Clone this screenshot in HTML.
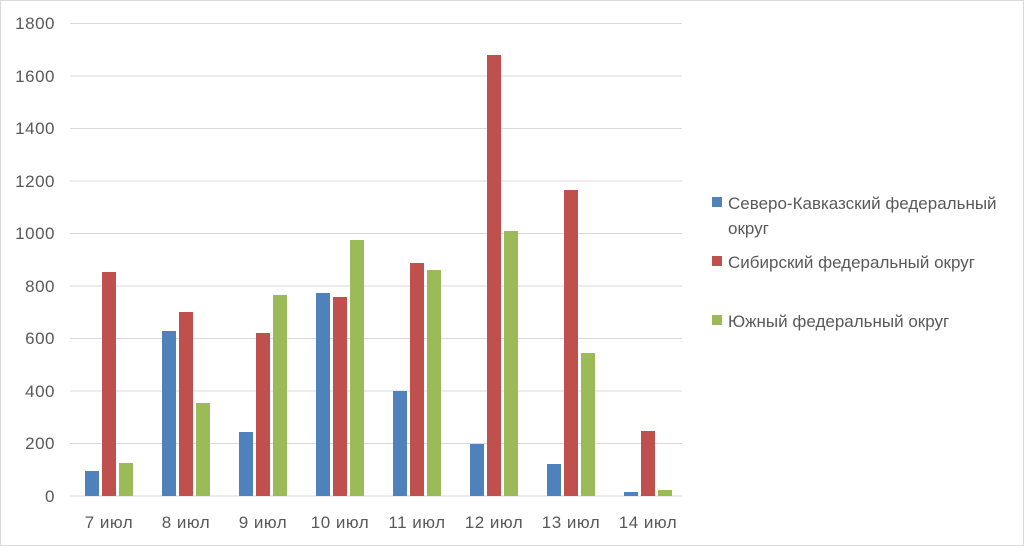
<!DOCTYPE html>
<html><head><meta charset="utf-8"><style>
body{margin:0;background:#fff}
svg{display:block}
text{font-family:"Liberation Sans",sans-serif;fill:#595959;font-size:17px}
</style></head><body>
<svg width="1024" height="546" viewBox="0 0 1024 546">
<rect x="0.5" y="0.5" width="1023" height="545" fill="#fff" stroke="#d9d9d9"/>
<g stroke="#d9d9d9" stroke-width="1">
<line x1="70" x2="682" y1="23.5" y2="23.5"/>
<line x1="70" x2="682" y1="76" y2="76"/>
<line x1="70" x2="682" y1="128.5" y2="128.5"/>
<line x1="70" x2="682" y1="181" y2="181"/>
<line x1="70" x2="682" y1="233.5" y2="233.5"/>
<line x1="70" x2="682" y1="286" y2="286"/>
<line x1="70" x2="682" y1="338.5" y2="338.5"/>
<line x1="70" x2="682" y1="391" y2="391"/>
<line x1="70" x2="682" y1="443.5" y2="443.5"/>
<line x1="70" x2="682" y1="496" y2="496"/>
</g>
<g text-anchor="end" style="letter-spacing:0.5px">
<text x="55" y="29">1800</text><text x="55" y="82">1600</text><text x="55" y="134">1400</text>
<text x="55" y="187">1200</text><text x="55" y="239">1000</text><text x="55" y="292">800</text>
<text x="55" y="344">600</text><text x="55" y="397">400</text><text x="55" y="449">200</text>
<text x="55" y="502">0</text>
</g>
<g>
<rect x="85" y="471" width="14" height="25" fill="#4F81BD"/><rect x="102" y="272" width="14" height="224" fill="#C0504D"/><rect x="119" y="463" width="14" height="33" fill="#9BBB59"/>
<rect x="162" y="331" width="14" height="165" fill="#4F81BD"/><rect x="179" y="312" width="14" height="184" fill="#C0504D"/><rect x="196" y="403" width="14" height="93" fill="#9BBB59"/>
<rect x="239" y="432" width="14" height="64" fill="#4F81BD"/><rect x="256" y="333" width="14" height="163" fill="#C0504D"/><rect x="273" y="295" width="14" height="201" fill="#9BBB59"/>
<rect x="316" y="293" width="14" height="203" fill="#4F81BD"/><rect x="333" y="297" width="14" height="199" fill="#C0504D"/><rect x="350" y="240" width="14" height="256" fill="#9BBB59"/>
<rect x="393" y="391" width="14" height="105" fill="#4F81BD"/><rect x="410" y="263" width="14" height="233" fill="#C0504D"/><rect x="427" y="270" width="14" height="226" fill="#9BBB59"/>
<rect x="470" y="444" width="14" height="52" fill="#4F81BD"/><rect x="487" y="55" width="14" height="441" fill="#C0504D"/><rect x="504" y="231" width="14" height="265" fill="#9BBB59"/>
<rect x="547" y="464" width="14" height="32" fill="#4F81BD"/><rect x="564" y="190" width="14" height="306" fill="#C0504D"/><rect x="581" y="353" width="14" height="143" fill="#9BBB59"/>
<rect x="624" y="492" width="14" height="4" fill="#4F81BD"/><rect x="641" y="431" width="14" height="65" fill="#C0504D"/><rect x="658" y="490" width="14" height="6" fill="#9BBB59"/>
</g>
<g text-anchor="middle" style="letter-spacing:0.5px">
<text x="109" y="528">7 июл</text><text x="186" y="528">8 июл</text><text x="263" y="528">9 июл</text>
<text x="340" y="528">10 июл</text><text x="417" y="528">11 июл</text><text x="494" y="528">12 июл</text>
<text x="571" y="528">13 июл</text><text x="648" y="528">14 июл</text>
</g>
<rect x="712" y="197" width="10" height="10" fill="#4F81BD"/>
<text x="728" y="209">Северо-Кавказский федеральный</text>
<text x="728" y="234">округ</text>
<rect x="712" y="256" width="10" height="10" fill="#C0504D"/>
<text x="728" y="268">Сибирский федеральный округ</text>
<rect x="712" y="315" width="10" height="10" fill="#9BBB59"/>
<text x="728" y="327">Южный федеральный округ</text>
</svg>
</body></html>
